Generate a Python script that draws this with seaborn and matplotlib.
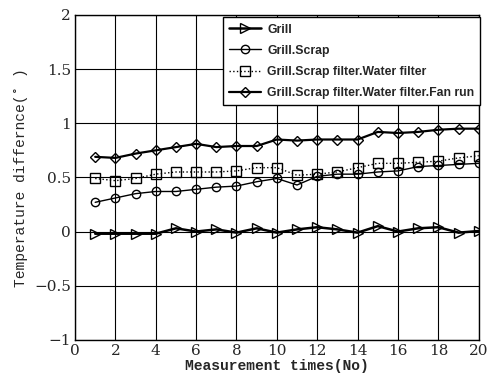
import matplotlib.pyplot as plt
import numpy as np
import pandas as pd
import seaborn as sns

# data
times = list(range(1, 21))
grill = [-0.02, -0.02, -0.02, -0.02, 0.03, 0.0, 0.02, -0.01, 0.03, -0.01,
         0.02, 0.04, 0.02, -0.01, 0.05, 0.0, 0.03, 0.04, -0.01, 0.005]
grill_scrap = [0.27, 0.31, 0.35, 0.37, 0.37, 0.39, 0.41, 0.42, 0.46, 0.49,
               0.43, 0.51, 0.53, 0.53, 0.55, 0.56, 0.60, 0.61, 0.62, 0.63]
water_filter = [0.49, 0.47, 0.49, 0.53, 0.55, 0.55, 0.55, 0.56, 0.59, 0.59,
                0.52, 0.53, 0.55, 0.59, 0.63, 0.63, 0.64, 0.65, 0.68, 0.70]
fan_run = [0.69, 0.68, 0.72, 0.75, 0.78, 0.81, 0.78, 0.79, 0.79, 0.85,
           0.84, 0.85, 0.85, 0.85, 0.92, 0.91, 0.92, 0.94, 0.95, 0.95]

labels = ["Grill", "Grill.Scrap", "Grill.Scrap filter.Water filter",
          "Grill.Scrap filter.Water filter.Fan run"]
series = [grill, grill_scrap, water_filter, fan_run]
markers = [">", "o", "s", "D"]
msizes = [7, 6, 7, 5.5]
styles = ["-", "-", ":", "-"]
widths = [1.8, 1.0, 1.0, 1.6]

sns.set_style("ticks")
fig = plt.figure(figsize=(4.87, 3.84), dpi=100)
ax = fig.add_axes([0.154, 0.115, 0.829, 0.846])

for lab, vals, m, ms, ls, lw in zip(labels, series, markers, msizes, styles, widths):
    df = pd.DataFrame({"t": times, "v": vals})
    sns.lineplot(data=df, x="t", y="v", ax=ax, color="black", marker=m,
                 markersize=ms, markerfacecolor="none", markeredgecolor="black",
                 markeredgewidth=1.0, linestyle=ls, linewidth=lw, label=lab)

ax.set_xlim(0, 20)
ax.set_ylim(-1, 2)
ax.set_xticks(np.arange(0, 21, 2))
ax.set_yticks([-1, -0.5, 0, 0.5, 1, 1.5, 2])
ax.set_yticklabels(["\u22121", "\u22120.5", "0", "0.5", "1", "1.5", "2"])
ax.grid(True, color="black", linewidth=0.8)
ax.tick_params(length=0, labelsize=11, pad=3)
for t in ax.get_xticklabels() + ax.get_yticklabels():
    t.set_family("DejaVu Serif")
for s in ax.spines.values():
    s.set_color("black")
    s.set_linewidth(1.0)

ax.set_xlabel("Measurement times(No)", family="Liberation Mono", fontweight="bold", fontsize=10.5, labelpad=1)
ax.set_ylabel("Temperature differnce(\u02da )", family="Liberation Mono", fontsize=10.5, labelpad=4)

leg = ax.legend(loc="upper right", bbox_to_anchor=(1.01, 1.0), fancybox=False, framealpha=1,
                edgecolor="black", prop={"family": "Liberation Sans", "weight": "bold", "size": 8.8},
                handlelength=2.6, handletextpad=0.5, borderaxespad=0.2, labelspacing=0.75,
                borderpad=0.5)
leg.get_frame().set_linewidth(1.0)

fig.savefig("out.png", dpi=100)
